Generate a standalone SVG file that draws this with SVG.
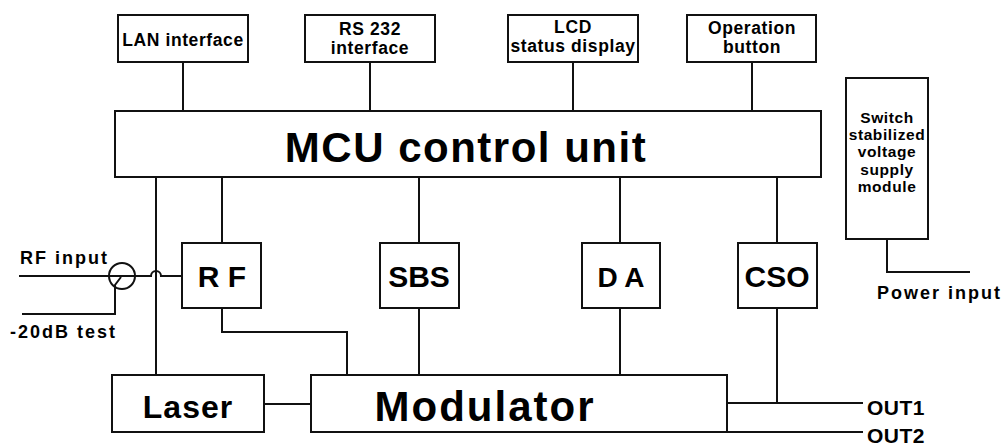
<svg xmlns="http://www.w3.org/2000/svg" width="1008" height="446" viewBox="0 0 1008 446">
<style>
.box{fill:#fff;stroke:#111;stroke-width:2}
.ln{fill:none;stroke:#111;stroke-width:2}
text{font-family:"Liberation Sans",Arial,sans-serif;font-weight:bold;fill:#000}
.s{font-size:17.5px;letter-spacing:0.6px;text-anchor:middle}
.m{font-size:30px;text-anchor:middle}
.p{font-size:15.5px;letter-spacing:0.6px;text-anchor:middle}
.l{font-size:18px;letter-spacing:2px}
</style>
<rect width="1008" height="446" fill="#fff"/>
<g id="connectors">
<line class="ln" x1="183" y1="62" x2="183" y2="111"/>
<line class="ln" x1="370" y1="62" x2="370" y2="111"/>
<line class="ln" x1="573" y1="62" x2="573" y2="111"/>
<line class="ln" x1="752" y1="62" x2="752" y2="111"/>
<line class="ln" x1="156" y1="177" x2="156" y2="375"/>
<line class="ln" x1="222" y1="177" x2="222" y2="243"/>
<line class="ln" x1="419" y1="177" x2="419" y2="243"/>
<line class="ln" x1="620" y1="177" x2="620" y2="243"/>
<line class="ln" x1="777" y1="177" x2="777" y2="243"/>
<polyline class="ln" points="222,308 222,332 347,332 347,375"/>
<line class="ln" x1="419" y1="308" x2="419" y2="375"/>
<line class="ln" x1="620" y1="308" x2="620" y2="375"/>
<polyline class="ln" points="777,308 777,403"/>
<line class="ln" x1="727" y1="403" x2="863" y2="403"/>
<line class="ln" x1="727" y1="432" x2="863" y2="432"/>
<line class="ln" x1="264" y1="404" x2="311" y2="404"/>
<path class="ln" d="M19,276 H151 A5,5 0 0 1 161,276 H182"/>
<circle class="ln" cx="122" cy="276" r="13"/>
<polyline class="ln" points="121,277 115,285 115,314 22,314"/>
<polyline class="ln" points="887,239 887,272 970,272"/>
</g>
<g id="lan"><rect class="box" x="118" y="15" width="130" height="47"/><text class="s" x="183" y="46">LAN interface</text></g>
<g id="rs232"><rect class="box" x="305" y="15" width="130" height="47"/><text class="s" x="370" y="35">RS 232</text><text class="s" x="370" y="54">interface</text></g>
<g id="lcd"><rect class="box" x="508" y="15" width="130" height="47"/><text class="s" x="573" y="33">LCD</text><text class="s" x="573" y="52">status display</text></g>
<g id="button"><rect class="box" x="687" y="15" width="129" height="47"/><text class="s" x="752" y="34">Operation</text><text class="s" x="752" y="53">button</text></g>
<g id="mcu"><rect class="box" x="115" y="111" width="706" height="66"/><text x="466" y="162" style="font-size:42px;letter-spacing:1.5px;text-anchor:middle">MCU control unit</text></g>
<g id="rf"><rect class="box" x="182" y="243" width="79" height="65"/><text class="m" x="222" y="287">R F</text></g>
<g id="sbs"><rect class="box" x="380" y="243" width="79" height="65"/><text class="m" x="419" y="287">SBS</text></g>
<g id="da"><rect class="box" x="582" y="243" width="78" height="65"/><text class="m" x="621" y="287" style="font-size:28px">D A</text></g>
<g id="cso"><rect class="box" x="738" y="243" width="79" height="65"/><text class="m" x="777" y="287">CSO</text></g>
<g id="laser"><rect class="box" x="112" y="375" width="152" height="57"/><text x="188" y="418" style="font-size:32px;letter-spacing:1px;text-anchor:middle">Laser</text></g>
<g id="modulator"><rect class="box" x="311" y="375" width="416" height="57"/><text x="485" y="421" style="font-size:42px;letter-spacing:2px;text-anchor:middle">Modulator</text></g>
<g id="supply"><rect class="box" x="846" y="78" width="82" height="161"/>
<text class="p" x="887" y="123">Switch</text><text class="p" x="887" y="140">stabilized</text><text class="p" x="887" y="157">voltage</text><text class="p" x="887" y="175">supply</text><text class="p" x="887" y="192">module</text></g>
<g id="labels">
<text class="l" x="20" y="264">RF input</text>
<text class="l" x="10" y="338">-20dB test</text>
<text class="l" x="877" y="299">Power input</text>
<text x="867" y="415" style="font-size:21px;letter-spacing:0.5px">OUT1</text>
<text x="867" y="443" style="font-size:21px;letter-spacing:0.5px">OUT2</text>
</g>
</svg>
